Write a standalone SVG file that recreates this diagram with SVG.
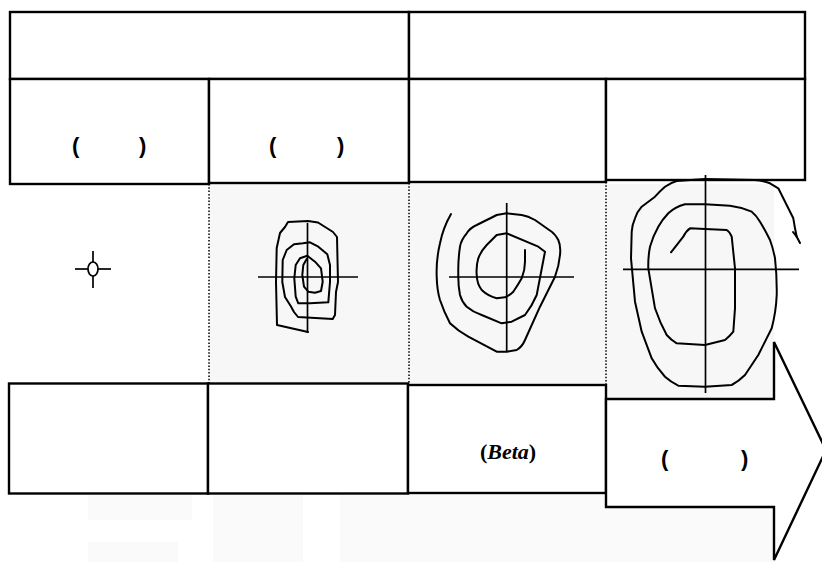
<svg xmlns="http://www.w3.org/2000/svg" width="822" height="562" viewBox="0 0 822 562">
<style>
.box{fill:#ffffff;stroke:#000;stroke-width:2.4}
.wm{fill:#f7f7f7;stroke:none}
.wm2{fill:#fafafa;stroke:none}
.cross{stroke:#000;stroke-width:1.7;fill:none}
.curve{stroke:#000;stroke-width:2;fill:none;stroke-linejoin:round;stroke-linecap:round}
.dot{stroke:#000;stroke-width:1.5;stroke-dasharray:1.5 1.8;fill:none}
.par{font-family:"Liberation Sans",Arial,sans-serif;font-size:22px;font-weight:bold;fill:#000}
.beta{font-family:"Liberation Serif","Times New Roman",serif;font-size:22px;font-weight:bold;fill:#000}
</style>
<rect width="822" height="562" fill="#ffffff"/>
<g id="watermark">
<rect class="wm" x="209" y="184" width="565" height="215"/>
<rect class="wm2" x="88" y="495" width="104" height="25"/>
<rect class="wm2" x="88" y="542" width="90" height="20"/>
<rect class="wm2" x="213" y="495" width="90" height="67"/>
<rect class="wm2" x="340" y="495" width="434" height="67"/>
</g>
<g id="separators">
<line class="dot" x1="209" y1="184" x2="209" y2="384"/>
<line class="dot" x1="409" y1="183" x2="409" y2="385"/>
<line class="dot" x1="606" y1="182" x2="606" y2="399"/>
</g>
<g id="top-left"><rect class="box" x="10" y="12" width="399" height="67"/></g>
<g id="top-right"><rect class="box" x="409" y="12" width="396" height="67"/></g>
<g id="head-1"><rect class="box" x="10" y="79" width="199" height="105"/>
<text class="par" y="153"><tspan x="72">(</tspan><tspan x="139">)</tspan></text></g>
<g id="head-2"><rect class="box" x="209" y="79" width="200" height="104"/>
<text class="par" y="153"><tspan x="269">(</tspan><tspan x="337">)</tspan></text></g>
<g id="head-3"><rect class="box" x="409" y="79" width="197" height="103"/></g>
<g id="head-4"><rect class="box" x="606" y="79" width="199" height="101"/></g>
<g id="stage-1">
<ellipse class="cross" cx="93" cy="269" rx="5" ry="7"/>
<line class="cross" x1="75" y1="269" x2="88" y2="269"/>
<line class="cross" x1="98" y1="269" x2="111" y2="269"/>
<line class="cross" x1="93" y1="251" x2="93" y2="262"/>
<line class="cross" x1="93" y1="276" x2="93" y2="288"/>
</g>
<g id="stage-2">
<line class="cross" x1="258" y1="277" x2="358" y2="277"/>
<line class="cross" x1="307.5" y1="223" x2="307.5" y2="333"/>
<path class="curve" d="M308,332 L277,325 L276,282 L276.7,248 L280,233 L285,227 L288,222 L308,221 L318,222.5 L333,232 L337,237 L338,282 L336,292 L335,315 L332.7,319 L298,317 L294,312 L290.7,306 L285,297 L282.3,282 L282.7,260 L286.7,250 L294,244.3 L303,243.3 L310,242.3 L318.3,246.7 L327.3,254.3 L330,265 L330,282 L328.3,302.3 L310,303.3 L298.3,303.3 L295.7,296.7 L294.3,278.3 L295.7,265 L300,258.3 L307.3,255.7 L315,261.7 L321,268.3 L322.7,281.7 L321,291 L315,292.7 L308.3,291.7 L304,286.7 L302.3,275 L303.3,265 L306.7,259"/>
</g>
<g id="stage-3">
<line class="cross" x1="449" y1="277" x2="574" y2="277"/>
<line class="cross" x1="506.7" y1="203" x2="506.7" y2="352"/>
<path class="curve" d="M451,214 Q443,228 440,243.3 Q436,260 436.7,276.7 Q437,290 440,300 Q444,312 450,323.3 Q458,331 468.3,336.7 L496.7,351.7 L506.7,351.7 L516.7,350 Q522,347 525,340 L540,306.7 L555,276.7 Q559,266 560,255 Q561,246 558.3,240 Q555,234 551.7,231.7 L535,220 Q528,216 521.7,215 L506.7,213.3 L496.7,215 Q491,218 486.7,220 L476.7,225 Q470,228 466.7,233.3 Q461,240 460,246.7 Q458,260 458.3,273.3 Q458,285 460,295 Q462,302 466.7,306.7 Q473,312 481.7,315 L501.7,323.3 L511.7,321.7 L525,315 Q532,306 536.7,295 L545,251.7 L538.3,246.7 L506.7,233.3 L496.7,235 L486.7,245 Q481,251 478.3,258.3 Q476,266 476.7,275 Q477,284 481.7,290 Q488,296 496.7,298.3 L505,297.3 Q510,295 513.3,291.7 Q518,285 521.7,278.3 Q525,270 525,261.7 L525,250"/>
</g>
<g id="stage-4">
<line class="cross" x1="623" y1="269.3" x2="799" y2="269.3"/>
<line class="cross" x1="705.5" y1="175" x2="705.5" y2="393"/>
<path class="curve" d="M800,243 L796.7,236.7 L795,228.3 L793.3,218.3 L788.3,208.3 L783.3,198.3 L778.3,188.3 L770,183.3 Q763,180.5 755,180 L705,179 L676.7,181 Q670,183 665,186.7 Q660,191 655,196.7 L641.7,206.7 Q637,212 635,218.3 Q632,225 631.7,231.7 L631,258.3 L635,301.7 L641.7,331.7 L651.7,358.3 Q657,368 665,376.7 Q671,382 678.3,385.7 L705,386.7 L731.7,385 Q739,381 745,375 L758.3,355 L771.7,328.3 Q776,312 776.7,295 Q777,276 775,258.3 Q773,248 770,240 Q765,230 760,221.7 Q756,215 751.7,211.7 Q741,207 730,205.7 L705,204.3 L685,204.3 Q675,207 668.3,213.3 Q662,220 658.3,226.7 Q653,236 650,246.7 Q648,257 648.3,268.3 L655,308.3 Q660,323 666.7,335 Q671,340 676.7,343.3 L705,345 L725,340 Q730,336 733.3,331.7 L735,308.3 L735,268.3 L731.7,236.7 Q730,232 726.7,230 L705,229 L690,228.3 Q686,231 683.3,236.7 L671,252.3"/>
<path class="curve" d="M796.7,236.7 L793,232"/>
</g>
<g id="foot-1"><rect class="box" x="9" y="383.5" width="199" height="110"/></g>
<g id="foot-2"><rect class="box" x="208" y="383.5" width="200" height="110"/></g>
<g id="foot-3"><rect class="box" x="408" y="385" width="198" height="108"/>
<text class="beta" x="508" y="459" text-anchor="middle">(<tspan font-style="italic">Beta</tspan>)</text></g>
<g id="foot-arrow">
<polygon class="box" points="606,399 774,399 774,342 826,450 774,560 774,507 606,507"/>
<text class="par" y="466"><tspan x="661">(</tspan><tspan x="741">)</tspan></text>
</g>
</svg>
